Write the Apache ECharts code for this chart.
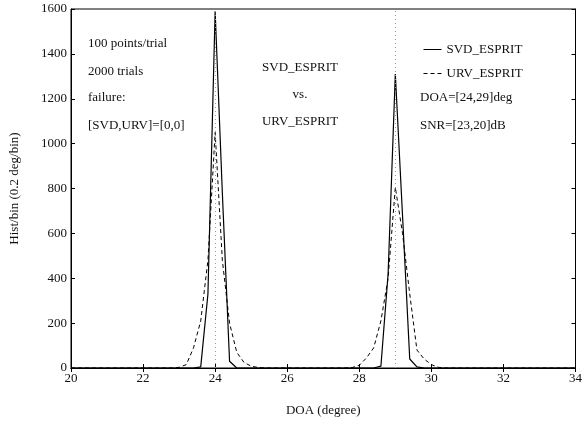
<!DOCTYPE html>
<html>
<head>
<meta charset="utf-8">
<script src="https://cdn.jsdelivr.net/npm/echarts@6/dist/echarts.min.js"></script>
<style>html,body{margin:0;padding:0;background:#fff;}#c{width:585px;height:428px;}</style>
</head>
<body>
<div id="c"></div>
<script>
// DOA bin centres (deg), 0.2 deg/bin
var doaBins = [20, 22.8, 23.0, 23.2, 23.4, 23.6, 23.8, 24.0, 24.2, 24.4, 24.6, 24.8, 25.0, 25.2, 25.4,
               27.6, 27.8, 28.0, 28.2, 28.4, 28.6, 28.8, 29.0, 29.2, 29.4, 29.6, 29.8, 30.0, 30.2, 30.4, 34];
var svdCounts = [0, 0, 0, 0, 0, 5, 330, 1590, 780, 30, 0, 0, 0, 0, 0,
                 0, 0, 0, 0, 0, 8, 420, 1310, 680, 40, 5, 0, 0, 0, 0, 0];
var urvCounts = [0, 0, 3, 15, 90, 210, 480, 1050, 480, 200, 70, 25, 8, 2, 0,
                 0, 2, 12, 45, 90, 210, 400, 805, 600, 330, 80, 40, 15, 3, 0, 0];
var trueDoa = [24, 29];
var xTicks = {min: 20, max: 34, interval: 2};
var yTicks = {min: 0, max: 1600, interval: 200};
var leftNotes = ['100 points/trial', '2000 trials', 'failure:', '[SVD,URV]=[0,0]'];
var centerNotes = ['SVD_ESPRIT', 'vs.', 'URV_ESPRIT'];
var rightNotes = ['DOA=[24,29]deg', 'SNR=[23,20]dB'];

function pairs(xs, ys) { return xs.map(function (x, i) { return [x, ys[i]]; }); }

var font = 'Liberation Serif, Times New Roman, serif';
var chart = echarts.init(document.getElementById('c'));
var graphics = [];
var leftY = [45, 73, 99, 127];
leftNotes.forEach(function (t, i) {
  graphics.push({type: 'text', left: 88, top: leftY[i] - 8, style: {text: t, font: '13px ' + font, fill: '#111'}});
});
var centerY = [69, 96, 123];
centerNotes.forEach(function (t, i) {
  graphics.push({type: 'text', x: 300, y: centerY[i] - 8, style: {text: t, font: '13px ' + font, fill: '#111', align: 'center'}});
});
var rightY = [99, 127];
rightNotes.forEach(function (t, i) {
  graphics.push({type: 'text', left: 420, top: rightY[i] - 8, style: {text: t, font: '13px ' + font, fill: '#111'}});
});

chart.setOption({
  animation: false,
  backgroundColor: '#fff',
  textStyle: {fontFamily: font},
  grid: {left: 70, right: 8, top: 9, bottom: 60, show: true, borderColor: '#000', borderWidth: 1},
  legend: {
    left: 418, top: 38, orient: 'vertical', itemGap: 11, itemWidth: 18, itemHeight: 10,
    textStyle: {fontFamily: font, fontSize: 13, color: '#111'},
    itemStyle: {opacity: 0},
    lineStyle: {width: 1},
    data: ['SVD_ESPRIT', 'URV_ESPRIT']
  },
  xAxis: [{
    type: 'value', min: xTicks.min, max: xTicks.max, interval: xTicks.interval,
    name: 'DOA (degree)', nameLocation: 'middle', nameGap: 36,
    nameTextStyle: {fontFamily: font, fontSize: 13, color: '#111'},
    axisLine: {show: true, lineStyle: {color: '#000'}},
    axisTick: {inside: true, length: 4, lineStyle: {color: '#000'}},
    axisLabel: {fontFamily: font, fontSize: 13, color: '#111', margin: 4},
    splitLine: {show: false}
  }, {
    type: 'value', position: 'top', min: xTicks.min, max: xTicks.max, interval: xTicks.interval,
    axisLine: {show: true, lineStyle: {color: '#000'}},
    axisTick: {inside: true, length: 4, lineStyle: {color: '#000'}},
    axisLabel: {show: false}, splitLine: {show: false}
  }],
  yAxis: [{
    type: 'value', min: yTicks.min, max: yTicks.max, interval: yTicks.interval,
    name: 'Hist/bin (0.2 deg/bin)', nameLocation: 'middle', nameGap: 50,
    nameTextStyle: {fontFamily: font, fontSize: 13, color: '#111'},
    axisLine: {show: true, lineStyle: {color: '#000'}},
    axisTick: {inside: true, length: 4, lineStyle: {color: '#000'}},
    axisLabel: {fontFamily: font, fontSize: 13, color: '#111', margin: 4, formatter: function (v) { return String(v); }},
    splitLine: {show: false}
  }, {
    type: 'value', position: 'right', min: yTicks.min, max: yTicks.max, interval: yTicks.interval,
    axisLine: {show: true, lineStyle: {color: '#000'}},
    axisTick: {inside: true, length: 4, lineStyle: {color: '#000'}},
    axisLabel: {show: false}, splitLine: {show: false}
  }],
  series: [{
    name: 'SVD_ESPRIT', type: 'line', data: pairs(doaBins, svdCounts),
    showSymbol: false, symbol: 'none', color: '#000',
    lineStyle: {color: '#000', width: 1.2},
    markLine: {
      silent: true, symbol: ['none', 'none'], label: {show: false},
      lineStyle: {color: '#999', type: [1, 3], width: 1},
      data: trueDoa.map(function (d) { return {xAxis: d}; })
    }
  }, {
    name: 'URV_ESPRIT', type: 'line', data: pairs(doaBins, urvCounts),
    showSymbol: false, symbol: 'none', color: '#000',
    lineStyle: {color: '#000', width: 1, type: [4, 3]}
  }],
  graphic: graphics
});
</script>
</body>
</html>
